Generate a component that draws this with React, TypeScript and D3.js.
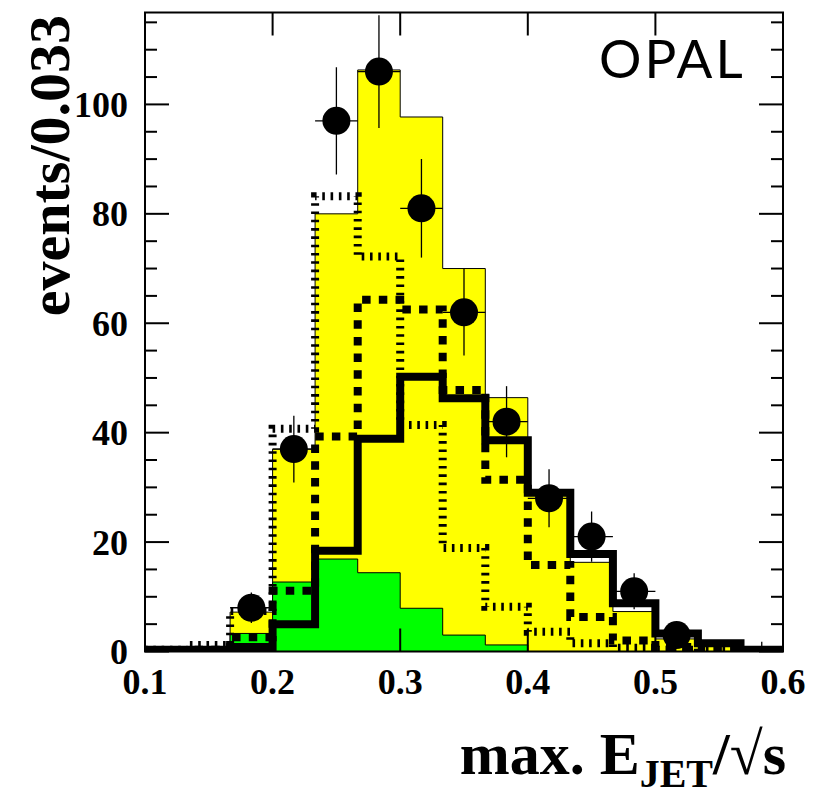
import React from "react";
import * as d3 from "d3";

// bin edges of max. E_JET/sqrt(s), width 0.033
const binEdges = [0.1, 0.1333, 0.1667, 0.2, 0.2333, 0.2667, 0.3, 0.3333, 0.3667, 0.4, 0.4333, 0.4667, 0.5, 0.5333, 0.5667, 0.6];

// total MC (yellow) and background (green)
const totalMC = [0.3, 0.5, 7.2, 37, 80, 106.3, 97.7, 70, 46.4, 29.5, 16.3, 7.3, 2.3, 1.2, 0.3];
const background = [0, 0, 3.3, 12.7, 16.9, 14.4, 7.9, 3.0, 1.2, 0, 0, 0, 0, 0, 0];

// signal curves
const solidCurve = [0.3, 0.3, 0.8, 5.0, 18.4, 38.9, 50.2, 46.3, 38.6, 29, 17.8, 8.8, 3.3, 1.5, 0.3];
const dashedCurve = [0.2, 0.3, 2.6, 11.1, 39.3, 64.3, 62.5, 47.8, 31.4, 15.8, 6.3, 2.0, 0.8, 0.3, 0.1];
const dottedCurve = [0.3, 1.2, 7.4, 40.7, 83.2, 72.2, 41.4, 18.9, 8.2, 3.6, 1.5, 0.7, 0.3, 0.1, 0];

// data points
const dataValues = [null, null, 8, 37, 97, 106, 81, 62, 42, 28, 21, 11, 3, 0, 0];
const dataErrors = [0, 0, 2.8, 6.1, 9.8, 10.3, 9, 7.9, 6.5, 5.3, 4.6, 3.3, 1.7, 1.8, 1.8];

const xTickLabels = ["0.1", "0.2", "0.3", "0.4", "0.5", "0.6"];
const yTickLabels = ["0", "20", "40", "60", "80", "100"];

const W = 814, H = 796;
const left = 145, right = 783, top = 12.5, bottom = 651.5;

export default function App() {
  const x = d3.scaleLinear().domain([0.1, 0.6]).range([left, right]);
  const y = d3.scaleLinear().domain([0, 116.8]).range([bottom, top]);

  const ext = (v: number[]) => [...v, v[v.length - 1]];

  const area = d3.area<number>()
    .x((d, i) => x(binEdges[i]))
    .y0(y(0))
    .y1(d => y(d))
    .curve(d3.curveStepAfter);

  const step = d3.line<number>()
    .x((d, i) => x(binEdges[i]))
    .y(d => y(d))
    .curve(d3.curveStepAfter);

  const minorY = d3.range(0, 117, 5);
  const serif = "'Liberation Serif', 'Times New Roman', serif";

  return (
    <svg width={W} height={H} style={{ position: "absolute", left: 0, top: 0, background: "#fff" }}>
      <defs>
        <clipPath id="plot">
          <rect x={left} y={top} width={right - left} height={bottom - top} />
        </clipPath>
      </defs>

      <g clipPath="url(#plot)">
        <path d={area(ext(totalMC)) || ""} fill="#ffff00" stroke="#000" strokeWidth={1} />
        <path d={area(ext(background)) || ""} fill="#00ff00" stroke="#000" strokeWidth={1} />
        <path d={step(ext(dottedCurve)) || ""} fill="none" stroke="#000" strokeWidth={8} strokeDasharray="2.6 5.7" />
        <path d={step(ext(dashedCurve)) || ""} fill="none" stroke="#000" strokeWidth={8} strokeDasharray="8.5 8.2" />
        <path d={step(ext(solidCurve)) || ""} fill="none" stroke="#000" strokeWidth={8} />

        {dataValues.map((v, i) => {
          if (v === null) return null;
          const cx = x((binEdges[i] + binEdges[i + 1]) / 2);
          const e = dataErrors[i];
          return (
            <g key={i}>
              <line x1={cx} x2={cx} y1={y(Math.max(0, v - e))} y2={y(v + e)} stroke="#000" strokeWidth={1.3} />
              {v > 0 && (
                <>
                  <line x1={x(binEdges[i])} x2={x(binEdges[i + 1])} y1={y(v)} y2={y(v)} stroke="#000" strokeWidth={1.3} />
                  <circle cx={cx} cy={y(v)} r={14} fill="#000" />
                </>
              )}
            </g>
          );
        })}
      </g>

      {/* frame */}
      <rect x={left} y={top} width={right - left} height={bottom - top} fill="none" stroke="#000" strokeWidth={2} />

      {/* y ticks */}
      {minorY.map(t => {
        const major = t % 20 === 0;
        const len = major ? 24 : 12;
        return (
          <g key={"y" + t}>
            <line x1={left} x2={left + len} y1={y(t)} y2={y(t)} stroke="#000" strokeWidth={2} />
            <line x1={right} x2={right - len} y1={y(t)} y2={y(t)} stroke="#000" strokeWidth={2} />
          </g>
        );
      })}
      {yTickLabels.map(t => (
        <text key={"yl" + t} x={128} y={y(+t)} dy="0.35em" textAnchor="end"
          fontFamily={serif} fontWeight="bold" fontSize={36}>{t}</text>
      ))}

      {/* x ticks */}
      {xTickLabels.map(t => (
        <g key={"x" + t}>
          <line x1={x(+t)} x2={x(+t)} y1={bottom} y2={bottom - 23} stroke="#000" strokeWidth={2} />
          <line x1={x(+t)} x2={x(+t)} y1={top} y2={top + 23} stroke="#000" strokeWidth={2} />
          <text x={x(+t)} y={694} textAnchor="middle" fontFamily={serif} fontWeight="bold" fontSize={36}>{t}</text>
        </g>
      ))}

      {/* axis titles */}
      <text transform="translate(69,15) rotate(-90)" textAnchor="end"
        fontFamily={serif} fontWeight="bold" fontSize={58}>events/0.033</text>
      <text x={786} y={774} textAnchor="end" fontFamily={serif} fontWeight="bold" fontSize={60}>
        max. E<tspan fontSize={40} dy={13}>JET</tspan><tspan dy={-13}>/√s</tspan>
      </text>

      <text x={599} y={78} fontFamily="Lato, 'Liberation Sans', sans-serif" fontSize={53} letterSpacing={3}>OPAL</text>
    </svg>
  );
}
